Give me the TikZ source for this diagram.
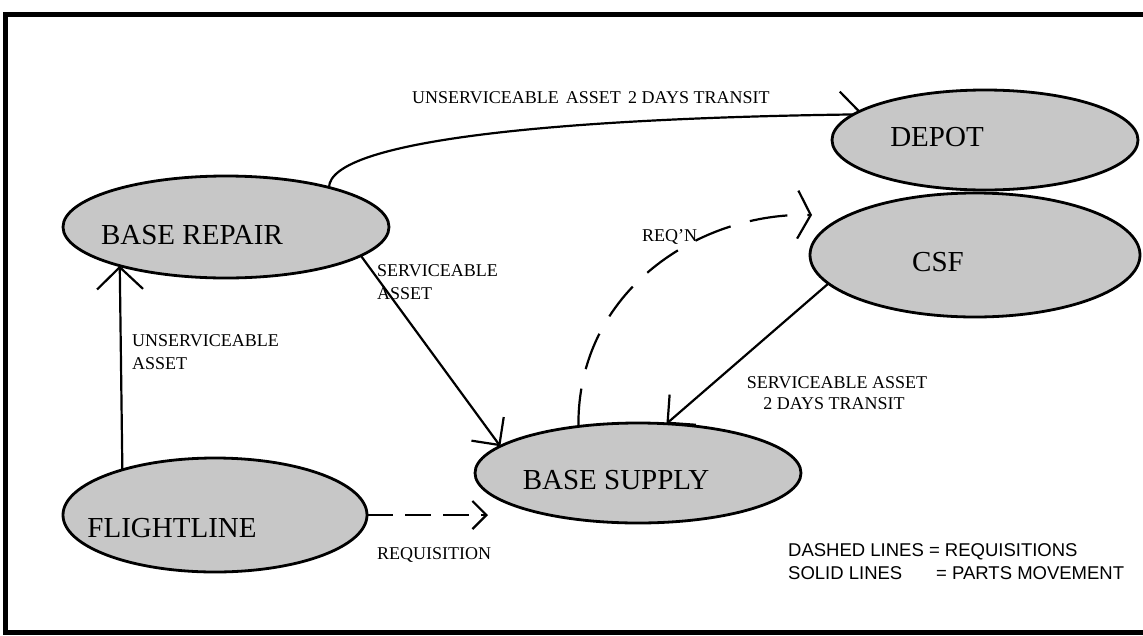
\documentclass[tikz,border=0pt]{standalone}
\usepackage{fontspec}
\setmainfont{Liberation Serif}
\newfontfamily\legendfont{Liberation Sans}
\usetikzlibrary{arrows.meta,shapes.geometric}
\pgfdeclarelayer{edges}
\pgfsetlayers{edges,main}

\begin{document}
\begin{tikzpicture}[x=1pt,y=-1pt,
  place/.style={ellipse, draw, line width=2.8pt, fill=black!22,
    inner sep=0pt, outer sep=0pt},
  nametext/.style={font=\fontsize{29}{32}\selectfont, inner sep=0pt},
  lbl/.style={font=\fontsize{18}{21}\selectfont, anchor=base west, inner sep=0pt},
  legend/.style={font=\legendfont\fontsize{18.5}{21}\selectfont, anchor=base west, inner sep=0pt},
  flow/.style={line width=2.2pt},
  req/.style={line width=2.2pt, dash pattern=on 26pt off 12pt},
  reqcurve/.style={line width=2.2pt, dash pattern=on 38pt off 20pt},
  tipbig/.style={-{Straight Barb[length=22pt,width=46pt]}},
  tipmid/.style={-{Straight Barb[length=20pt,width=40pt]}},
  tipsmall/.style={-{Straight Barb[length=14pt,width=28pt]}},
  tipwide/.style={-{Straight Barb[length=13pt,width=48pt]}}
]
\useasboundingbox (0,0) rectangle (1143,635);

% frame, open on the right
\draw[line width=5pt] (1143,14) -- (5.5,14) -- (5.5,632) -- (1143,632);

% places
\node[place, minimum width=326pt, minimum height=102pt,
  label={[nametext, xshift=-34pt, yshift=-8pt]center:BASE REPAIR}] (br) at (226,227) {};
\node[place, minimum width=306pt, minimum height=100pt,
  label={[nametext, xshift=-48pt, yshift=3pt]center:DEPOT}] (depot) at (985,140) {};
\node[place, minimum width=330pt, minimum height=124pt,
  label={[nametext, xshift=-37pt, yshift=-7pt]center:CSF}] (csf) at (975,255) {};
\node[place, minimum width=326pt, minimum height=100pt,
  label={[nametext, xshift=-22pt, yshift=-7pt]center:BASE SUPPLY}] (bs) at (638,473) {};
\node[place, minimum width=304pt, minimum height=114pt,
  label={[nametext, xshift=-43pt, yshift=-13pt]center:FLIGHTLINE}] (fl) at (215,515) {};

% free ends of the requisition arrows
\coordinate (flreq) at (488,515);
\coordinate (csfreq) at (812,215);

% connectors
\begin{pgfonlayer}{edges}
  \draw[flow, tipbig] (fl.154.9) -- (br.200.2);
  \draw[flow, tipbig, shorten >=-10pt] (br.21.4) .. controls (330,140) and (560,118) .. (depot.169.4);
  \draw[flow, tipmid] (br.-12) -- (bs.169.5);
  \draw[flow, tipmid] (csf.191) -- (bs.60);
  \draw[req, tipsmall] (fl.east) -- (flreq);
  \draw[reqcurve, tipwide] (bs.142.7) .. controls (577,290) and (700,212) .. (csfreq);
\end{pgfonlayer}

% connector labels
\node[lbl] (ltransit) at (412,103) {UNSERVICEABLE\hspace{0.15em} ASSET\hspace{0.15em} 2 DAYS TRANSIT};
\node[lbl] (lsa1) at (377,276) {SERVICEABLE};
\node[lbl] (lsa2) at (377,299) {ASSET};
\node[lbl] (lua1) at (132,346) {UNSERVICEABLE};
\node[lbl] (lua2) at (132,369) {ASSET};
\node[lbl] (lreqn) at (642,241) {REQ’N};
\node[lbl, anchor=base] (lcsf1) at (837,388) {SERVICEABLE ASSET};
\node[lbl, anchor=base] (lcsf2) at (834,409) {2 DAYS TRANSIT};
\node[lbl] (lreq) at (377,559) {REQUISITION};

% legend
\node[legend] (lg1) at (788,556) {DASHED LINES = REQUISITIONS};
\node[legend] (lg2a) at (788,579) {SOLID LINES};
\node[legend] (lg2b) at (936,579) {= PARTS MOVEMENT};
\end{tikzpicture}
\end{document}
